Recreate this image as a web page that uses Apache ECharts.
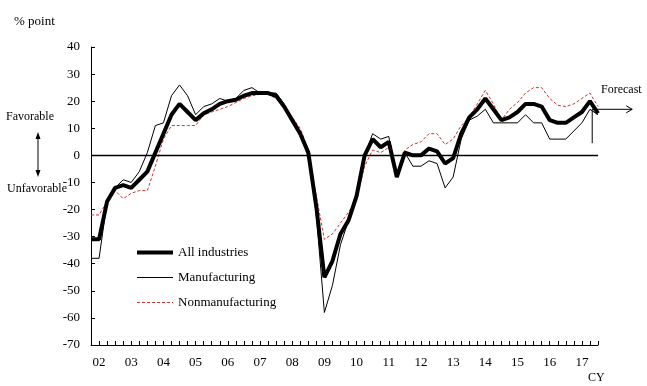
<!DOCTYPE html>
<html><head><meta charset="utf-8">
<script src="https://cdn.jsdelivr.net/npm/echarts@6/dist/echarts.min.js"></script>
<style>html,body{margin:0;padding:0;background:#fff}#c{width:647px;height:386px}</style>
</head><body><div id="c"></div>
<script>
const quarters = [
 '2001Q4',
 '2002Q1','2002Q2','2002Q3','2002Q4','2003Q1','2003Q2','2003Q3','2003Q4',
 '2004Q1','2004Q2','2004Q3','2004Q4','2005Q1','2005Q2','2005Q3','2005Q4',
 '2006Q1','2006Q2','2006Q3','2006Q4','2007Q1','2007Q2','2007Q3','2007Q4',
 '2008Q1','2008Q2','2008Q3','2008Q4','2009Q1','2009Q2','2009Q3','2009Q4',
 '2010Q1','2010Q2','2010Q3','2010Q4','2011Q1','2011Q2','2011Q3','2011Q4',
 '2012Q1','2012Q2','2012Q3','2012Q4','2013Q1','2013Q2','2013Q3','2013Q4',
 '2014Q1','2014Q2','2014Q3','2014Q4','2015Q1','2015Q2','2015Q3','2015Q4',
 '2016Q1','2016Q2','2016Q3','2016Q4','2017Q1','2017Q2','2017Q3'
];
const yearLabels = {'2002Q1':'02','2003Q1':'03','2004Q1':'04','2005Q1':'05','2006Q1':'06','2007Q1':'07','2008Q1':'08','2009Q1':'09','2010Q1':'10','2011Q1':'11','2012Q1':'12','2013Q1':'13','2014Q1':'14','2015Q1':'15','2016Q1':'16','2017Q1':'17'};

const allIndustries = [-31,-31,-17,-12,-11,-12,-9,-6,1,8,
  15,19,16,13,15.5,17,19,20,20.5,22,
  23,23,23,22,18,13,8,1,-19,-45,
  -39,-29,-24,-15,0,6,3,5,-8,1,
  0,0,2.5,1.5,-3,-1,8,14,17,21,
  17,13,14,16,19,19,18,13,12,12,
  14,16,20,15.5];
const manufacturing = [-38,-38,-17,-12,-9,-10,-6,1,11,12,
  22,26,22,15,18,19,21,20,21,24,
  25,23,23,23,19,13,7,0,-22,-58,
  -48,-33,-24,-15,0,8,6,7,-8,1,
  -4,-4,-2,-3,-12,-8,6,13,14.5,17,
  12,12,12,12,15,12,12,6,6,6,
  9,12,17,15];
const nonmanufacturing = [-22,-22,-17,-13,-16,-14,-13,-13,-4,6,
  11,11,11,11,15,16,17,18,19.5,21,
  22,22.5,22.5,21,18,14,10,2,-15,-31,
  -29,-25,-21,-16,-4,2,1,3,-7,2,
  4,5,8,8,4,6,11,14,19,24,
  19,13,17,19.5,23,25,25,21,18.5,18,
  19,21,23,18];
const forecastLevel = 17;
const forecastBottom = 4.5;

const FONT = '"Liberation Serif","Times New Roman",serif';
const RED = '#c8352f';
const chart = echarts.init(document.getElementById('c'), null, {renderer:'canvas'});

chart.setOption({
  animation: false,
  backgroundColor: '#fff',
  grid: {left: 91, right: 49, top: 47, bottom: 41},
  legend: {
    orient: 'vertical', left: 135, top: 246, padding: 0,
    itemWidth: 36, itemHeight: 14, itemGap: 12,
    data: [
      {name: 'All industries', lineStyle: {color: '#000', width: 4}},
      {name: 'Manufacturing', lineStyle: {color: '#000', width: 1}},
      {name: 'Nonmanufacturing', lineStyle: {color: RED, width: 1, type: [3, 2]}}
    ],
    itemStyle: {opacity: 0},
    textStyle: {fontFamily: FONT, fontSize: 13, color: '#000'}
  },
  xAxis: {
    type: 'category', data: quarters, boundaryGap: false,
    axisLine: {onZero: false, lineStyle: {color: '#000', width: 1}},
    axisTick: {inside: true, length: 4, interval: 0, lineStyle: {color:'#000'}},
    axisLabel: {
      interval: 0, margin: 11, fontFamily: FONT, fontSize: 13, color: '#000',
      formatter: v => yearLabels[v] || ''
    },
    splitLine: {show: false}
  },
  yAxis: {
    type: 'value', min: -70, max: 40, interval: 10,
    axisLine: {show: true, lineStyle: {color: '#000', width: 1}},
    axisTick: {show: true, inside: true, length: 4, lineStyle: {color:'#000'}},
    axisLabel: {margin: 11, fontFamily: FONT, fontSize: 13, color: '#000'},
    splitLine: {show: false}
  },
  series: [
    {name: 'Nonmanufacturing', type: 'line', data: nonmanufacturing, symbol: 'none',
     lineStyle: {color: RED, width: 1, type: [3, 2]}, itemStyle: {color: RED}, z: 2,
     markLine: {silent: true, symbol: 'none', label: {show: false},
       lineStyle: {color: '#000', width: 1.3, type: 'solid'}, data: [{yAxis: 0}]}},
    {name: 'Manufacturing', type: 'line', data: manufacturing, symbol: 'none',
     lineStyle: {color: '#000', width: 1}, itemStyle: {color: '#000'}, z: 3},
    {name: 'All industries', type: 'line', data: allIndustries, symbol: 'none',
     lineStyle: {color: '#000', width: 4}, itemStyle: {color: '#000'}, z: 4}
  ]
});

// annotations positioned from axis scales
const p62 = chart.convertToPixel({xAxisIndex:0, yAxisIndex:0}, [62, forecastLevel]);
const p63 = chart.convertToPixel({xAxisIndex:0, yAxisIndex:0}, [63, forecastBottom]);
const vx = p62[0] + (p63[0] - p62[0]) * 0.28;
const ay = p62[1];
const by = p63[1];
const ax2 = vx + 40;

chart.setOption({
  graphic: [
    {type: 'text', left: 14, top: 15, style: {text: '% point', font: '13px ' + FONT, fill: '#000'}},
    {type: 'text', x: 6, y: 111, style: {text: 'Favorable', font: '12px ' + FONT, fill: '#000'}},
    {type: 'text', x: 7, y: 183, style: {text: 'Unfavorable', font: '12px ' + FONT, fill: '#000'}},
    {type: 'line', shape: {x1: 38, y1: 136, x2: 38, y2: 173}, style: {stroke: '#000', lineWidth: 1}},
    {type: 'polygon', shape: {points: [[38,132],[35.5,139],[40.5,139]]}, style: {fill: '#000'}},
    {type: 'polygon', shape: {points: [[38,177],[35.5,170],[40.5,170]]}, style: {fill: '#000'}},
    {type: 'text', x: 588, y: 372, style: {text: 'CY', font: '12px ' + FONT, fill: '#000'}},
    {type: 'text', x: 601, y: 84, style: {text: 'Forecast', font: '12px ' + FONT, fill: '#000'}},
    {type: 'line', shape: {x1: vx, y1: ay, x2: vx, y2: by}, style: {stroke: '#000', lineWidth: 1}},
    {type: 'line', shape: {x1: vx, y1: ay, x2: ax2, y2: ay}, style: {stroke: '#000', lineWidth: 1}},
    {type: 'polyline', shape: {points: [[ax2-6, ay-3.5],[ax2, ay],[ax2-6, ay+3.5]]}, style: {stroke: '#000', lineWidth: 1, fill: null}}
  ]
});
</script>
</body></html>
